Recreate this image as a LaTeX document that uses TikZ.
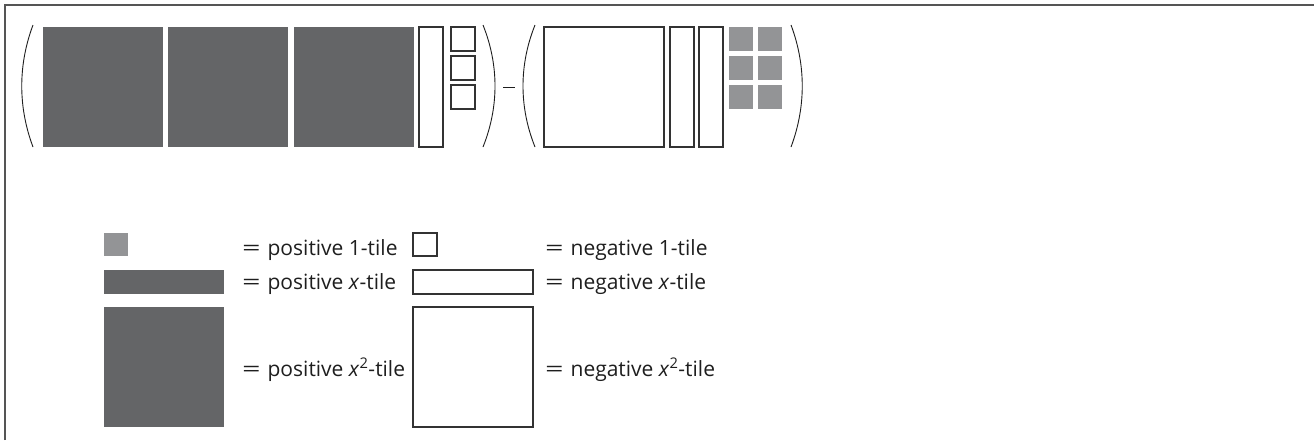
\documentclass[tikz,border=0pt]{standalone}
\usepackage{graphicx}
\usepackage{fontspec}
\setmainfont{Open Sans}
\definecolor{darkt}{HTML}{646567}
\definecolor{lightt}{HTML}{939496}
\definecolor{framec}{HTML}{555555}
\definecolor{edgec}{HTML}{333333}
\definecolor{textc}{HTML}{1e1e1e}
\newcommand{\eqs}{\scalebox{1.55}[1]{=}\kern7pt}
\begin{document}
\begin{tikzpicture}[x=1pt,y=-1pt,
  tile/.style={rectangle, inner sep=0pt, outer sep=0pt, anchor=north west},
  postile/.style={tile, fill=darkt},
  onetile/.style={tile, fill=lightt},
  negtile/.style={tile, draw=edgec, line width=1.1pt, fill=white},
  lbl/.style={anchor=base west, inner sep=0pt, outer sep=0pt, text=textc, font=\fontsize{21}{25}\selectfont},
  paren/.style={line width=0.9pt, draw=textc},
  framel/.style={line width=2pt, draw=framec}]
\useasboundingbox (0,0) rectangle (1314,440);
% frame
\draw[framel] (5,440) -- (5,5) -- (1314,5);
% first group
\node[postile, minimum width=120pt, minimum height=120pt] (pa) at (43,27) {};
\node[postile, minimum width=120pt, minimum height=120pt] (pb) at (168,27) {};
\node[postile, minimum width=120pt, minimum height=120pt] (pc) at (294,27) {};
\node[negtile, minimum width=24pt, minimum height=120pt] (nx) at (419,27) {};
\node[negtile, minimum width=24pt, minimum height=24pt] (na) at (451,27) {};
\node[negtile, minimum width=24pt, minimum height=24pt] (nb) at (451,56) {};
\node[negtile, minimum width=24pt, minimum height=24pt] (nc) at (451,85) {};
\coordinate (lpa) at (33,25); \coordinate (lpb) at (33,147);
\coordinate (rpa) at (483,25); \coordinate (rpb) at (483,147);
\draw[paren] (lpa) .. controls (18,65) and (18,107) .. (lpb);
\draw[paren] (rpa) .. controls (499,65) and (499,107) .. (rpb);
% minus
\coordinate (ma) at (503,87); \coordinate (mb) at (515,87);
\draw[line width=0.9pt, draw=textc] (ma) -- (mb);
% second group
\coordinate (lqa) at (535,25); \coordinate (lqb) at (535,147);
\coordinate (rqa) at (791,25); \coordinate (rqb) at (791,147);
\draw[paren] (lqa) .. controls (519,65) and (519,107) .. (lqb);
\draw[paren] (rqa) .. controls (806,65) and (806,107) .. (rqb);
\node[negtile, minimum width=120pt, minimum height=120pt] (nsq) at (544,27) {};
\node[negtile, minimum width=24pt, minimum height=120pt] (nxa) at (670,27) {};
\node[negtile, minimum width=24pt, minimum height=120pt] (nxb) at (699,27) {};
\node[onetile, minimum width=24pt, minimum height=24pt] (oa) at (729,27) {};
\node[onetile, minimum width=24pt, minimum height=24pt] (ob) at (758,27) {};
\node[onetile, minimum width=24pt, minimum height=24pt] (oc) at (729,56) {};
\node[onetile, minimum width=24pt, minimum height=24pt] (od) at (758,56) {};
\node[onetile, minimum width=24pt, minimum height=24pt] (oe) at (729,85) {};
\node[onetile, minimum width=24pt, minimum height=24pt] (of) at (758,85) {};
% legend
\node[onetile, minimum width=24pt, minimum height=23pt] (lga) at (104,233) {};
\node[lbl] (lta) at (242,255) {\eqs positive 1-tile};
\node[negtile, minimum width=24pt, minimum height=23pt] (lgb) at (413,233) {};
\node[lbl] (ltb) at (545,255) {\eqs negative 1-tile};
\node[postile, minimum width=120pt, minimum height=24pt] (lgc) at (104,270) {};
\node[lbl] (ltc) at (242,289) {\eqs positive \textit{x}-tile};
\node[negtile, minimum width=120pt, minimum height=24pt] (lgd) at (413,270) {};
\node[lbl] (ltd) at (545,289) {\eqs negative \textit{x}-tile};
\node[postile, minimum width=120pt, minimum height=120pt] (lge) at (104,307) {};
\node[lbl] (lte) at (242,376) {\eqs positive \textit{x}\textsuperscript{2}-tile};
\node[negtile, minimum width=120pt, minimum height=120pt] (lgf) at (413,307) {};
\node[lbl] (ltf) at (545,376) {\eqs negative \textit{x}\textsuperscript{2}-tile};
\end{tikzpicture}
\end{document}
